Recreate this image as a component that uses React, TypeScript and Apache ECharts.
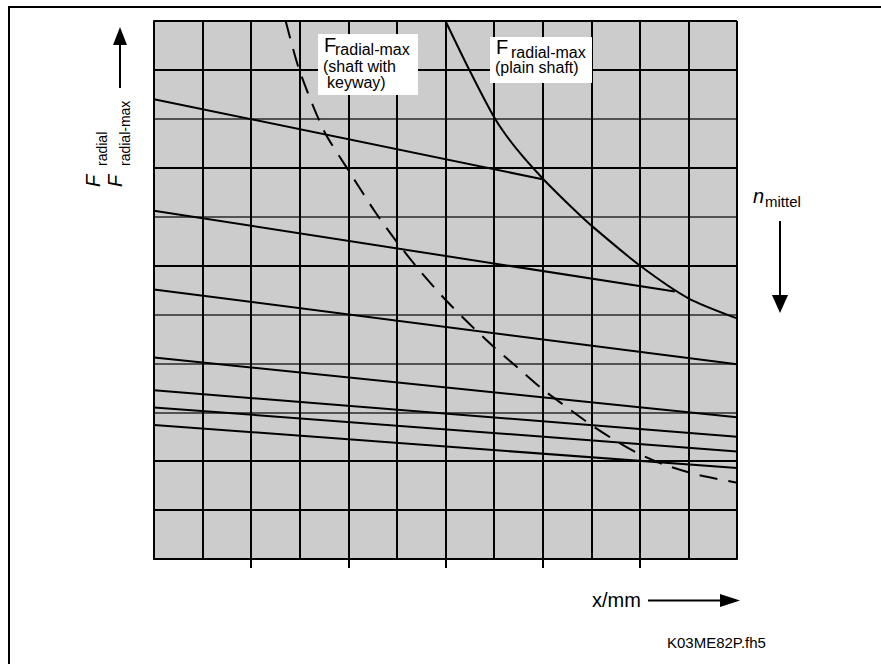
import React, { useEffect, useRef } from 'react';
import * as echarts from 'echarts';

// Grid: 12 columns (x) and 11 rows (y)
const xMax = 12;
const yMax = 11;
const tickValues = [2, 4, 6, 8, 10];
// which horizontal grid lines are thick (T) or thin (t), from bottom (0) to top (11)
const rowStyles = ['T', 'T', 'T', 't', 't', 't', 'T', 't', 'T', 't', 'T', 'T'];

// Speed lines (n_mittel), straight
const speedLine1 = [[0, 9.4], [8.02, 7.76]];
const speedLine2 = [[0, 7.12], [10.72, 5.47]];
const speedLine3 = [[0, 5.51], [12, 3.98]];
const speedLine4 = [[0, 4.12], [12, 2.9]];
const speedLine5 = [[0, 3.45], [12, 2.5]];
const speedLine6 = [[0, 3.1], [12, 2.2]];
const speedLine7 = [[0, 2.74], [12, 1.86]];

// F radial-max (plain shaft)
const plainShaft = [
  [6, 11], [6.49, 10], [7.02, 9], [7.45, 8.4], [8.02, 7.76], [8.65, 7.14],
  [9, 6.82], [10, 6], [11, 5.33], [12, 4.92],
];

// F radial-max (shaft with keyway)
const keywayShaft = [
  [2.71, 11], [2.99, 10], [3.5, 8.75], [4.0, 7.95], [4.55, 7.1], [5.0, 6.48],
  [5.5, 5.86], [6.0, 5.3], [6.5, 4.8], [7.0, 4.33], [7.5, 3.9], [8.0, 3.47],
  [8.5, 3.1], [9.0, 2.74], [9.5, 2.42], [10.0, 2.14], [10.5, 1.93], [11.2, 1.72], [12, 1.56],
];

const FONT = "'Liberation Sans', Arial, Helvetica, sans-serif";

function txt(text: string, x: number, baseline: number, size: number, italic = false) {
  return {
    type: 'text',
    z: 100,
    style: {
      text,
      x,
      y: baseline - 0.3465 * size,
      fill: '#000',
      fontSize: size,
      fontFamily: FONT,
      fontStyle: italic ? 'italic' : 'normal',
      align: 'left',
      verticalAlign: 'middle',
      textAlign: 'left',
      textVerticalAlign: 'middle',
    },
  };
}

function seg(x1: number, y1: number, x2: number, y2: number, w = 2) {
  return {
    type: 'line',
    z: 100,
    shape: { x1, y1, x2, y2 },
    style: { stroke: '#000', lineWidth: w },
  };
}

function tri(points: number[][]) {
  return { type: 'polygon', z: 100, shape: { points }, style: { fill: '#000' } };
}

export default function App() {
  const ref = useRef<HTMLDivElement>(null);

  useEffect(() => {
    if (!ref.current) return;
    const chart = echarts.init(ref.current, undefined, { renderer: 'svg' });

    const solid = { color: '#000', width: 2 };
    const straight = [speedLine1, speedLine2, speedLine3, speedLine4, speedLine5, speedLine6, speedLine7];

    const series: any[] = straight.map((d, i) => ({
      name: 'n' + (i + 1),
      type: 'line',
      data: d,
      showSymbol: false,
      symbol: 'none',
      lineStyle: solid,
      silent: true,
    }));
    series.push({
      name: 'plain',
      type: 'line',
      data: plainShaft,
      smooth: 0.25,
      showSymbol: false,
      symbol: 'none',
      lineStyle: solid,
      silent: true,
    });
    series.push({
      name: 'keyway',
      type: 'line',
      data: keywayShaft,
      smooth: 0.25,
      showSymbol: false,
      symbol: 'none',
      lineStyle: { color: '#000', width: 2, type: [18, 11] },
      silent: true,
    });

    const thickColors = rowStyles.map((s) => (s === 'T' ? '#000' : 'rgba(0,0,0,0)'));
    const thinColors = rowStyles.map((s) => (s === 't' ? '#2a2a2a' : 'rgba(0,0,0,0)'));

    const graphics: any[] = [
      // outer frame (top and left)
      seg(8, 7, 881, 7, 2),
      seg(9, 6, 9, 664, 2),
      // label boxes
      { type: 'rect', z: 100, shape: { x: 318, y: 34, width: 100, height: 61 }, style: { fill: '#fff' } },
      txt('F', 324, 52, 20),
      txt('radial-max', 335, 55, 16),
      txt('(shaft with', 323, 72, 16),
      txt('keyway)', 327, 88, 16),
      { type: 'rect', z: 100, shape: { x: 490, y: 37, width: 102, height: 46 }, style: { fill: '#fff' } },
      txt('F', 496, 54, 20),
      txt('radial-max', 511, 58, 16),
      txt('(plain shaft)', 495, 73.5, 16),
      // y label (rotated)
      {
        type: 'group',
        x: 86,
        y: 187,
        rotation: Math.PI / 2,
        z: 100,
        children: [
          txt('F', 0, 14, 20, true),
          txt('radial', 21, 21, 14),
          txt('F', 0, 36, 20, true),
          txt('radial-max', 21, 44, 14),
        ],
      },
      seg(120, 88, 120, 44, 2),
      tri([[113, 45], [127, 45], [120, 27]]),
      // n_mittel
      txt('n', 753, 203, 20, true),
      txt('mittel', 765, 207, 15),
      seg(780, 221, 780, 296, 2),
      tri([[772, 295], [788, 295], [780, 313]]),
      // x/mm
      txt('x/mm', 592, 606.5, 20),
      seg(648, 600.5, 722, 600.5, 2),
      tri([[720, 594], [720, 607], [740, 600.5]]),
      // figure id
      txt('K03ME82P.fh5', 667, 648, 15),
    ];

    chart.setOption({
      animation: false,
      backgroundColor: '#fff',
      grid: {
        show: true,
        left: 154,
        top: 21,
        width: 583,
        height: 538,
        backgroundColor: '#cccccc',
        borderWidth: 0,
        containLabel: false,
      },
      xAxis: [
        {
          type: 'value',
          min: 0,
          max: xMax,
          interval: 1,
          position: 'bottom',
          axisLine: { show: true, onZero: false, lineStyle: { color: '#000', width: 2 } },
          axisTick: { show: false },
          axisLabel: { show: false },
          splitLine: { show: true, lineStyle: { color: '#000', width: 2 } },
        },
        {
          type: 'value',
          min: 0,
          max: xMax,
          interval: 1,
          position: 'bottom',
          axisLine: { show: false, onZero: false },
          axisTick: {
            show: true,
            inside: false,
            length: 9,
            customValues: tickValues,
            lineStyle: { color: '#000', width: 2 },
          },
          axisLabel: { show: false },
          splitLine: { show: false },
        },
      ],
      yAxis: [
        {
          type: 'value',
          min: 0,
          max: yMax,
          interval: 1,
          position: 'left',
          axisLine: { show: true, onZero: false, lineStyle: { color: '#000', width: 2 } },
          axisTick: { show: false },
          axisLabel: { show: false },
          splitLine: { show: true, lineStyle: { color: thickColors, width: 2 } },
        },
        {
          type: 'value',
          min: 0,
          max: yMax,
          interval: 1,
          position: 'right',
          axisLine: { show: false, onZero: false },
          axisTick: { show: false },
          axisLabel: { show: false },
          splitLine: { show: true, lineStyle: { color: thinColors, width: 1.5 } },
        },
      ],
      series,
      graphic: { elements: graphics },
    });

    return () => chart.dispose();
  }, []);

  return (
    <div
      ref={ref}
      style={{ position: 'fixed', left: 0, top: 0, width: 881, height: 664, background: '#fff' }}
    />
  );
}
